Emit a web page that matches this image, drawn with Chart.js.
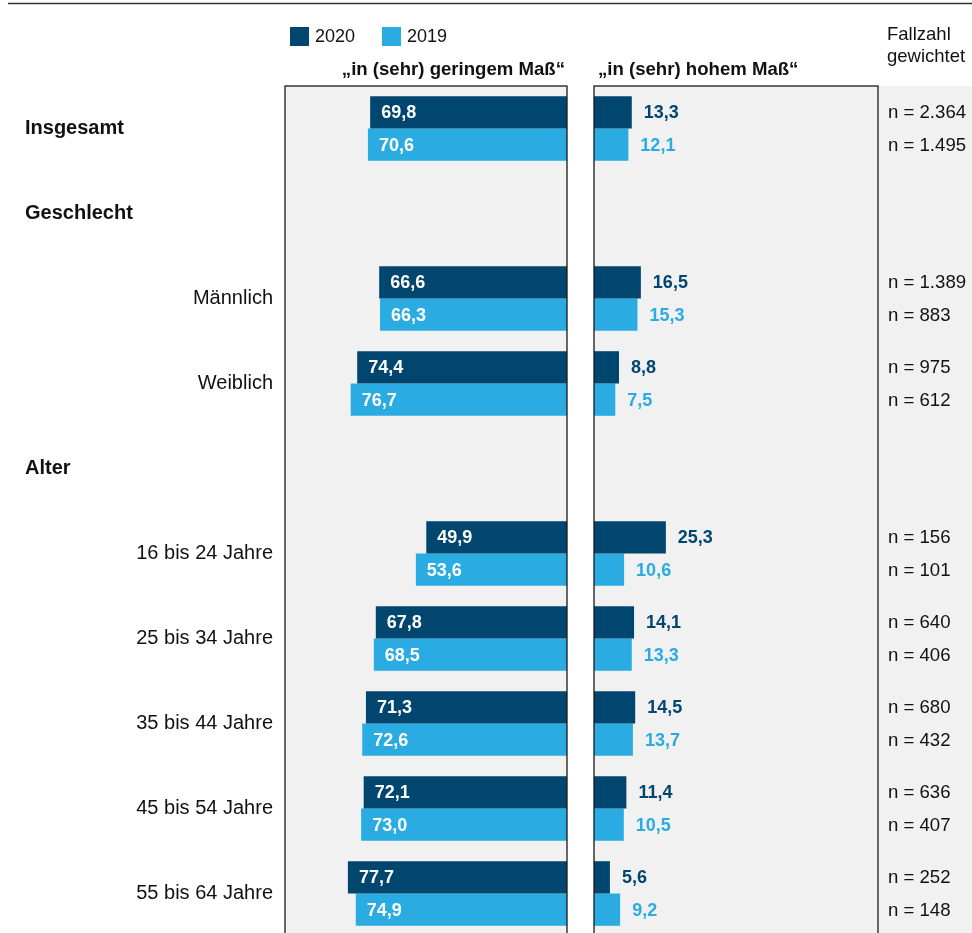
<!DOCTYPE html>
<html>
<head>
<meta charset="utf-8">
<script src="https://cdn.jsdelivr.net/npm/chart.js@4.4.0/dist/chart.umd.min.js"></script>
<style>
  html, body { margin: 0; padding: 0; background: #fff; overflow: hidden; }
  #wrap { position: relative; width: 972px; height: 933px; overflow: hidden; }
  #wrap canvas { position: absolute; left: 0; top: 0; }
</style>
</head>
<body>
<div id="wrap">
  <canvas id="leftChart" width="972" height="950"></canvas>
  <canvas id="rightChart" width="972" height="950"></canvas>
</div>
<script>
const categories = ["Insgesamt", "Geschlecht", "Männlich", "Weiblich", "Alter",
  "16 bis 24 Jahre", "25 bis 34 Jahre", "35 bis 44 Jahre", "45 bis 54 Jahre", "55 bis 64 Jahre"];
const groupHeaders = ["Insgesamt", "Geschlecht", "Alter"];
const years = ["2020", "2019"];
const low2020 = [69.8, null, 66.6, 74.4, null, 49.9, 67.8, 71.3, 72.1, 77.7];
const low2019 = [70.6, null, 66.3, 76.7, null, 53.6, 68.5, 72.6, 73.0, 74.9];
const high2020 = [13.3, null, 16.5, 8.8, null, 25.3, 14.1, 14.5, 11.4, 5.6];
const high2019 = [12.1, null, 15.3, 7.5, null, 10.6, 13.3, 13.7, 10.5, 9.2];
const n2020 = ["2.364", null, "1.389", "975", null, "156", "640", "680", "636", "252"];
const n2019 = ["1.495", null, "883", "612", null, "101", "406", "432", "407", "148"];

const DARK = "#00466e";
const LIGHT = "#2aabe2";
const PANEL = "#f1f1f1";
const FONT = '"Liberation Sans", Arial, sans-serif';

const fmt = (v) => v.toFixed(1).replace(".", ",");

function baseOptions(reverse, padding) {
  return {
    responsive: false,
    animation: false,
    indexAxis: "y",
    layout: { padding: padding },
    plugins: { legend: { display: false }, tooltip: { enabled: false } },
    scales: {
      y: { display: false, grid: { display: false } },
      x: { display: false, min: 0, max: 100, reverse: reverse, grid: { display: false } },
    },
    datasets: { bar: { categoryPercentage: 0.76, barPercentage: 1.0 } },
  };
}

function panelBox(ctx, area) {
  ctx.save();
  ctx.strokeStyle = "#1a1a1a";
  ctx.lineWidth = 1.3;
  ctx.strokeRect(area.left, area.top, area.right - area.left, area.bottom - area.top);
  ctx.restore();
}

// left panel + labels, legend, header
const leftDecor = {
  id: "leftDecor",
  beforeDraw(chart) {
    const { ctx, chartArea: a } = chart;
    ctx.save();
    ctx.fillStyle = PANEL;
    ctx.fillRect(a.left, a.top, a.right - a.left, a.bottom - a.top);
    ctx.restore();
  },
  afterDraw(chart) {
    const { ctx, chartArea: a } = chart;
    const yScale = chart.scales.y;
    panelBox(ctx, a);
    ctx.save();

    // top rule
    ctx.strokeStyle = "#333";
    ctx.lineWidth = 1.6;
    ctx.beginPath();
    ctx.moveTo(8, 3.5);
    ctx.lineTo(chart.width, 3.5);
    ctx.stroke();

    // legend
    ctx.textBaseline = "middle";
    ctx.textAlign = "left";
    ctx.font = "18px " + FONT;
    const legendX = [290, 382];
    [DARK, LIGHT].forEach((c, k) => {
      ctx.fillStyle = c;
      ctx.fillRect(legendX[k], 27, 19, 19);
      ctx.fillStyle = "#111";
      ctx.fillText(years[k], legendX[k] + 25, 37);
    });

    // panel title
    ctx.font = "bold 18.6px " + FONT;
    ctx.textAlign = "right";
    ctx.fillText("\u201Ein (sehr) geringem Ma\u00DF\u201C", a.right - 2, 70);

    // category labels
    categories.forEach((c, i) => {
      const y = yScale.getPixelForValue(i);
      ctx.fillStyle = "#111";
      if (groupHeaders.includes(c)) {
        ctx.font = "bold 20px " + FONT;
        ctx.textAlign = "left";
        ctx.fillText(c, 25, y);
      } else {
        ctx.font = "20px " + FONT;
        ctx.textAlign = "right";
        ctx.fillText(c, a.left - 12, y);
      }
    });

    // value labels inside bars
    ctx.font = "bold 18px " + FONT;
    ctx.textAlign = "left";
    ctx.fillStyle = "#fff";
    chart.data.datasets.forEach((ds, d) => {
      chart.getDatasetMeta(d).data.forEach((el, i) => {
        const v = ds.data[i];
        if (v == null) return;
        ctx.fillText(fmt(v), el.x + 11, el.y + 1);
      });
    });
    ctx.restore();
  },
};

// right panel + case numbers
const rightDecor = {
  id: "rightDecor",
  beforeDraw(chart) {
    const { ctx, chartArea: a } = chart;
    ctx.save();
    ctx.fillStyle = PANEL;
    ctx.fillRect(a.left, a.top, chart.width - a.left, a.bottom - a.top);
    ctx.restore();
  },
  afterDraw(chart) {
    const { ctx, chartArea: a } = chart;
    panelBox(ctx, a);
    ctx.save();
    ctx.textBaseline = "middle";
    ctx.fillStyle = "#111";
    ctx.font = "bold 18.6px " + FONT;
    ctx.textAlign = "left";
    ctx.fillText("\u201Ein (sehr) hohem Ma\u00DF\u201C", a.left + 4, 70);

    ctx.font = "18.5px " + FONT;
    ctx.fillText("Fallzahl", a.right + 9, 35);
    ctx.fillText("gewichtet", a.right + 9, 57);

    const nLists = [n2020, n2019];
    chart.data.datasets.forEach((ds, d) => {
      chart.getDatasetMeta(d).data.forEach((el, i) => {
        const v = ds.data[i];
        if (v == null) return;
        ctx.font = "bold 18px " + FONT;
        ctx.fillStyle = ds.backgroundColor;
        ctx.fillText(fmt(v), el.x + 12, el.y + 1);
        ctx.font = "18.6px " + FONT;
        ctx.fillStyle = "#111";
        ctx.fillText("n = " + nLists[d][i], a.right + 10, el.y + 1);
      });
    });
    ctx.restore();
  },
};

new Chart(document.getElementById("leftChart").getContext("2d"), {
  type: "bar",
  data: {
    labels: categories,
    datasets: [
      { label: years[0], data: low2020, backgroundColor: DARK },
      { label: years[1], data: low2019, backgroundColor: LIGHT },
    ],
  },
  options: baseOptions(true, { left: 285, right: 405, top: 86, bottom: 14 }),
  plugins: [leftDecor],
});

new Chart(document.getElementById("rightChart").getContext("2d"), {
  type: "bar",
  data: {
    labels: categories,
    datasets: [
      { label: years[0], data: high2020, backgroundColor: DARK },
      { label: years[1], data: high2019, backgroundColor: LIGHT },
    ],
  },
  options: baseOptions(false, { left: 594, right: 94, top: 86, bottom: 14 }),
  plugins: [rightDecor],
});
</script>
</body>
</html>
